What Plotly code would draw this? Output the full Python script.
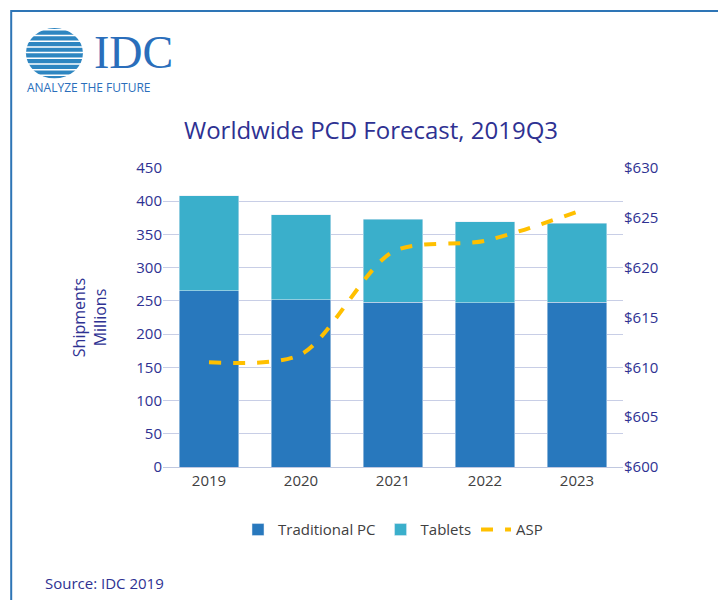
import plotly.graph_objects as go

years = ["2019", "2020", "2021", "2022", "2023"]
traditional_pc = [265, 252, 248, 247, 248]
tablets = [143, 128, 125, 122, 119]
asp = [610.5, 611.3, 621.6, 622.7, 625.6]

blue_text = "#2E3192"
fig = go.Figure()
fig.add_trace(go.Bar(x=years, y=traditional_pc, name="Traditional PC",
                     marker_color="#2878BD", width=0.65))
fig.add_trace(go.Bar(x=years, y=tablets, name="Tablets",
                     marker_color="#3AAFCB", width=0.65))
fig.add_trace(go.Scatter(x=years, y=asp, name="ASP", yaxis="y2", mode="lines",
                         line=dict(color="#FFC000", width=4, dash="dash", shape="spline", smoothing=0.8)))

shapes = [dict(type="rect", xref="paper", yref="paper", x0=-0.33, x1=1.235, y0=-0.46, y1=1.525,
               line=dict(color="#2E75B6", width=2))]
# logo globe
shapes.append(dict(type="circle", xref="paper", yref="paper", x0=-0.298, x1=-0.174, y0=1.30, y1=1.468,
                    fillcolor="#2E86C1", line=dict(width=0), layer="above"))
for i in range(9):
    yy = 1.31 + i * 0.019
    shapes.append(dict(type="line", xref="paper", yref="paper", x0=-0.31, x1=-0.16, y0=yy, y1=yy,
                       line=dict(color="white", width=1.5), layer="above"))

fig.update_layout(
    barmode="stack", width=726, height=600,
    margin=dict(l=155, r=111, t=160, b=141, autoexpand=False),
    paper_bgcolor="white", plot_bgcolor="white",
    font=dict(family="Open Sans, Arial", size=15, color="#404040"),
    title=dict(text="Worldwide PCD Forecast, 2019Q3", x=0.5, xanchor="center", y=0.795,
               yanchor="middle", font=dict(size=24, color=blue_text)),
    xaxis=dict(tickfont=dict(size=15, color="#404040"), showline=True, linecolor="#C0C8E0"),
    yaxis=dict(range=[0, 450], dtick=50, gridcolor="#C8CEE6", zeroline=False,
               tickfont=dict(color=blue_text), ticks="", title=dict(text="Shipments<br>Millions",
               font=dict(size=16, color=blue_text), standoff=25)),
    yaxis2=dict(range=[600, 630], dtick=5, overlaying="y", side="right", showgrid=False,
                tickprefix="$", tickfont=dict(color=blue_text)),
    legend=dict(orientation="h", x=0.5, xanchor="center", y=-0.21, yanchor="middle",
                font=dict(size=15, color="#404040"), traceorder="normal"),
    shapes=shapes,
    bargap=0.35,
    annotations=[
        dict(text="IDC", xref="paper", yref="paper", x=-0.155, y=1.385, xanchor="left", yanchor="middle",
             showarrow=False, font=dict(family="Liberation Serif", size=46, color="#2A6EBB")),
        dict(text="ANALYZE THE FUTURE", xref="paper", yref="paper", x=-0.30, y=1.27, xanchor="left",
             yanchor="middle", showarrow=False, font=dict(size=12, color="#2A6EBB")),
        dict(text="Source: IDC 2019", xref="paper", yref="paper", x=-0.26, y=-0.388, xanchor="left",
             yanchor="middle", showarrow=False, font=dict(size=15, color=blue_text)),
    ],
)
fig.write_html("out.html")
